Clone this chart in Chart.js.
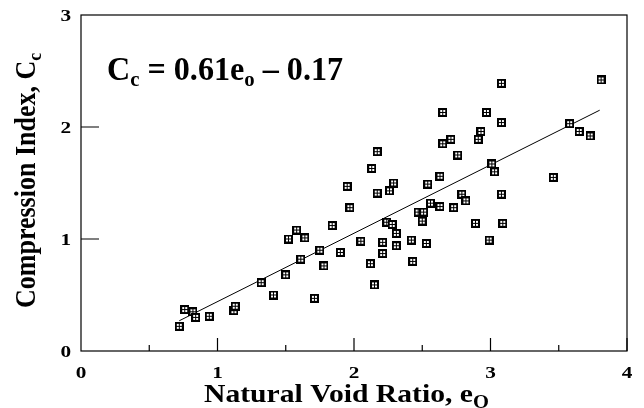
<!DOCTYPE html>
<html>
<head>
<meta charset="utf-8">
<script src="https://cdn.jsdelivr.net/npm/chart.js@4.4.0/dist/chart.umd.min.js"></script>
<style>
  body { margin: 0; background: #fff; }
  #wrap { width: 644px; height: 408px; }
</style>
</head>
<body>
<div id="wrap"><canvas id="chart"></canvas></div>
<script>
// Natural void ratio (e_o) and compression index (C_c)
const voidRatio = [0.72, 0.76, 0.82, 0.84, 0.94, 1.12, 1.13, 1.32, 1.41, 1.50,
  1.52, 1.58, 1.64, 1.61, 1.71, 1.75, 1.78, 1.84, 1.90, 1.95,
  1.97, 2.05, 2.12, 2.15, 2.17, 2.26, 2.29, 2.21, 2.21, 2.24,
  2.28, 2.31, 2.31, 2.42, 2.43, 2.53, 2.50, 2.47, 2.51, 2.54,
  2.56, 2.63, 2.73, 2.79, 2.82, 2.89, 2.99, 3.08, 3.09, 3.08,
  3.81, 2.65, 2.97, 3.08, 3.58, 3.65, 3.73, 2.93, 2.91, 2.71,
  2.65, 2.76, 2.17, 2.13, 2.63, 3.01, 3.03, 3.46];
const compIndex = [0.22, 0.37, 0.35, 0.30, 0.31, 0.36, 0.40, 0.61, 0.50, 0.68,
  1.00, 1.08, 1.01, 0.82, 0.47, 0.90, 0.76, 1.12, 0.88, 1.47,
  1.28, 0.98, 0.78, 0.59, 1.41, 1.43, 1.50, 0.97, 0.87, 1.15,
  1.13, 1.05, 0.94, 0.99, 0.80, 0.96, 1.16, 1.24, 1.24, 1.49,
  1.32, 1.29, 1.28, 1.40, 1.34, 1.14, 0.99, 1.40, 1.14, 2.39,
  2.42, 2.13, 2.13, 2.04, 2.03, 1.96, 1.92, 1.96, 1.89, 1.89,
  1.85, 1.75, 1.78, 1.63, 1.56, 1.67, 1.60, 1.55];

// fitted line end points
const fitX = [0.72, 3.8];
const fitY = [0.27, 2.15];

const xTicks = [0, 1, 2, 3, 4];
const xMinorTicks = [0.5, 1.5, 2.5, 3.5];
const yTicks = [0, 1, 2, 3];

const serif = "'Liberation Serif', 'Times New Roman', serif";

// square marker with a cross inside
function makeMarker() {
  const c = document.createElement('canvas');
  c.width = 9; c.height = 9;
  const g = c.getContext('2d');
  g.fillStyle = '#000';
  g.fillRect(0, 0, 9, 9);
  g.fillStyle = '#fff';
  g.fillRect(2, 2, 2, 2);
  g.fillRect(5, 2, 2, 2);
  g.fillRect(2, 5, 2, 2);
  g.fillRect(5, 5, 2, 2);
  return c;
}

// bold serif text, stretched sideways by sx; returns drawn width
function wideText(ctx, str, x, y, size, sx, align) {
  ctx.save();
  ctx.font = 'bold ' + size + 'px ' + serif;
  ctx.textAlign = align || 'left';
  ctx.translate(x, y);
  ctx.scale(sx, 1);
  ctx.fillText(str, 0, 0);
  const w = ctx.measureText(str).width * sx;
  ctx.restore();
  return w;
}

// text runs [string, size, dy]
function richText(ctx, parts, x, y, sx) {
  parts.forEach(p => {
    x += wideText(ctx, p[0], x, y + p[2], p[1], sx);
  });
}

// draws box, inward ticks, tick labels, axis titles and the equation
const decorPlugin = {
  id: 'decor',
  afterDraw(chart) {
    const ctx = chart.ctx;
    const a = chart.chartArea;
    const xs = chart.scales.x, ys = chart.scales.y;
    ctx.save();
    ctx.strokeStyle = '#000';
    ctx.lineWidth = 1.2;
    ctx.strokeRect(a.left, a.top, a.right - a.left, a.bottom - a.top);

    ctx.beginPath();
    xTicks.slice(1).forEach(v => {
      const px = xs.getPixelForValue(v);
      ctx.moveTo(px, a.bottom); ctx.lineTo(px, a.bottom - 13);
    });
    xMinorTicks.forEach(v => {
      const px = xs.getPixelForValue(v);
      ctx.moveTo(px, a.bottom); ctx.lineTo(px, a.bottom - 6);
    });
    yTicks.slice(1, -1).forEach(v => {
      const py = ys.getPixelForValue(v);
      ctx.moveTo(a.left, py); ctx.lineTo(a.left + 18, py);
    });
    ctx.stroke();

    ctx.fillStyle = '#000';
    ctx.textBaseline = 'alphabetic';

    // tick labels
    xTicks.forEach(v => {
      wideText(ctx, String(v), xs.getPixelForValue(v), 378, 17, 1.25, 'center');
    });
    yTicks.forEach(v => {
      wideText(ctx, String(v), 71, ys.getPixelForValue(v) + 6, 17, 1.25, 'right');
    });

    // x title
    richText(ctx, [['Natural Void Ratio, e', 26, 0], ['O', 18, 6]], 204, 402, 1.14);

    // y title
    ctx.save();
    ctx.translate(35, 308);
    ctx.rotate(-Math.PI / 2);
    ctx.scale(1, 1.1);
    richText(ctx, [['Compression Index, C', 26, 0], ['c', 18, 5]], 0, 0, 1);
    ctx.restore();

    // equation
    richText(ctx, [['C', 34, 0], ['c', 22, 6], [' = 0.61e', 34, 0], ['o', 22, 6], [' \u2013 0.17', 34, 0]], 107, 80, 0.945);
    ctx.restore();
  }
};

new Chart(document.getElementById('chart'), {
  type: 'scatter',
  data: {
    datasets: [
      {
        label: 'data',
        data: voidRatio.map((e, i) => ({ x: e, y: compIndex[i] })),
        pointStyle: makeMarker(),
        pointRadius: 5,
        showLine: false,
        order: 1
      },
      {
        label: 'fit',
        data: fitX.map((e, i) => ({ x: e, y: fitY[i] })),
        showLine: true,
        borderColor: '#000',
        borderWidth: 1,
        pointRadius: 0,
        order: 2
      }
    ]
  },
  options: {
    responsive: true,
    maintainAspectRatio: false,
    animation: false,
    layout: { padding: { top: 15, right: 17, left: 0, bottom: 0 } },
    plugins: { legend: { display: false }, tooltip: { enabled: false } },
    scales: {
      x: {
        type: 'linear', min: 0, max: 4,
        grid: { display: false, drawTicks: false },
        border: { display: false },
        afterBuildTicks: s => { s.ticks = xTicks.map(v => ({ value: v })); },
        afterFit: s => { s.height = 57; },
        ticks: { display: false }
      },
      y: {
        type: 'linear', min: 0, max: 3,
        grid: { display: false, drawTicks: false },
        border: { display: false },
        afterBuildTicks: s => { s.ticks = yTicks.map(v => ({ value: v })); },
        afterFit: s => { s.width = 81; },
        ticks: { display: false }
      }
    }
  },
  plugins: [decorPlugin]
});
</script>
</body>
</html>
